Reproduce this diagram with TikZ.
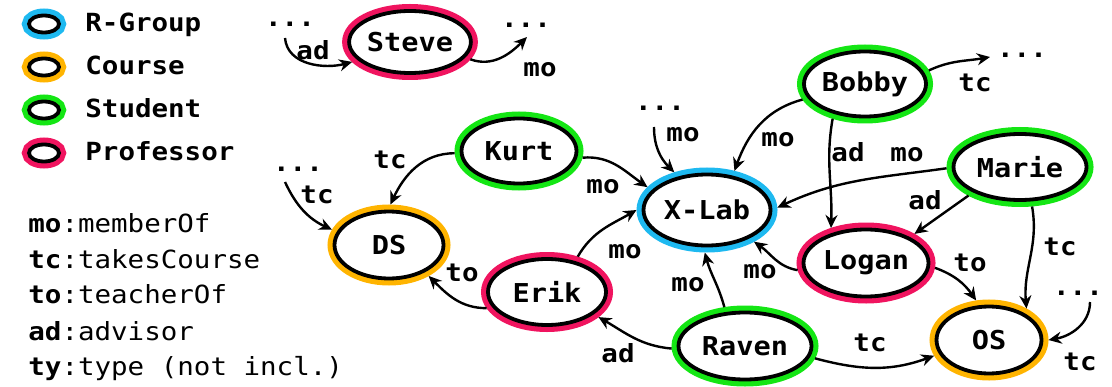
\documentclass[tikz,border=0pt]{standalone}
\usepackage{fontspec}
\setmonofont[FakeStretch=1.1]{DejaVu Sans Mono}
\usetikzlibrary{shapes.geometric,arrows.meta}

\definecolor{rgroupcol}{RGB}{30,185,240}
\definecolor{coursecol}{RGB}{255,180,0}
\definecolor{studentcol}{RGB}{20,230,20}
\definecolor{profcol}{RGB}{240,20,95}

\tikzset{
  entity/.style={ellipse, draw=black, line width=1.9pt, fill=white, inner sep=0pt,
    outer sep=3.5pt, font=\ttfamily\bfseries\fontsize{13}{15}\selectfont},
  rgroup/.style={entity, preaction={draw=rgroupcol, line width=7pt}},
  course/.style={entity, preaction={draw=coursecol, line width=7pt}},
  student/.style={entity, preaction={draw=studentcol, line width=7pt}},
  prof/.style={entity, preaction={draw=profcol, line width=7pt}},
  rel/.style={-{Stealth[length=6.5pt,width=6pt]}, line width=1.2pt},
  lbl/.style={inner sep=0pt, font=\ttfamily\bfseries\fontsize{12.5}{14}\selectfont},
  txt/.style={anchor=base west, inner sep=0pt, font=\ttfamily\fontsize{12.5}{14}\selectfont},
  keymark/.style={minimum width=15pt, minimum height=8.5pt},
}

\begin{document}
\begin{tikzpicture}[x=0.5pt, y=0.5pt]
  \useasboundingbox (0,0) rectangle (1112,386);

  % legend
  \node[rgroup, keymark]  (kRgroup)  at (44,362) {};
  \node[course, keymark]  (kCourse)  at (44,319) {};
  \node[student, keymark] (kStudent) at (44,276) {};
  \node[prof, keymark]    (kProf)    at (44,233) {};
  \node[txt] (tRgroup)  at (85,354) {\bfseries R-Group};
  \node[txt] (tCourse)  at (85,311) {\bfseries Course};
  \node[txt] (tStudent) at (85,268) {\bfseries Student};
  \node[txt] (tProf)    at (85,226) {\bfseries Professor};

  \node[txt] (dMo) at (28,154) {\textbf{mo}:memberOf};
  \node[txt] (dTc) at (28,118) {\textbf{tc}:takesCourse};
  \node[txt] (dTo) at (28,83)  {\textbf{to}:teacherOf};
  \node[txt] (dAd) at (28,46)  {\textbf{ad}:advisor};
  \node[txt] (dTy) at (28,11)  {\textbf{ty}:type (not incl.)};

  % entities
  \node[prof, minimum width=56.5pt, minimum height=31pt]    (steve) at (410,344) {Steve};
  \node[student, minimum width=61pt, minimum height=32.5pt] (bobby) at (865,302) {Bobby};
  \node[student, minimum width=66.5pt, minimum height=33pt] (marie) at (1020,219) {Marie};
  \node[rgroup, minimum width=63.5pt, minimum height=35.5pt] (xlab) at (707,176) {X-Lab};
  \node[prof, minimum width=62.5pt, minimum height=33.5pt]  (logan) at (866,123) {Logan};
  \node[course, minimum width=52.5pt, minimum height=33.5pt] (os)   at (989,46)  {OS};
  \node[student, minimum width=66.5pt, minimum height=33.5pt] (raven) at (745,40) {Raven};
  \node[student, minimum width=57.5pt, minimum height=32.5pt] (kurt) at (519,235) {Kurt};
  \node[course, minimum width=54.5pt, minimum height=33.5pt] (ds)   at (389,141) {DS};
  \node[prof, minimum width=59pt, minimum height=33pt]      (erik)  at (547,94)  {Erik};

  % elided neighbours
  \node[lbl] (moreSteveL) at (290,362)  {...};
  \node[lbl] (moreSteveR) at (526,361)  {...};
  \node[lbl] (moreBobby)  at (1022,331) {...};
  \node[lbl] (moreXlab)   at (660,278)  {...};
  \node[lbl] (moreDS)     at (298,217)  {...};
  \node[lbl] (moreOS)     at (1078,93)  {...};

  \coordinate (fromSteveL) at (285,348);
  \coordinate (toSteveR)   at (527,349);
  \coordinate (toBobby)    at (990,329);
  \coordinate (fromXlab)   at (654,259);
  \coordinate (fromDS)     at (285,204);
  \coordinate (fromOS)     at (1090,84);

  % edges
  \draw[rel] (fromSteveL) to[out=-85, in=195] (steve.199);
  \draw[rel] (steve.-16) to[out=-20, in=225] (toSteveR);
  \draw[rel] (bobby.12) to[out=25, in=190] (toBobby);
  \draw[rel] (fromXlab) to[out=-90, in=135] (xlab.131);
  \draw[rel] (fromDS) to[out=-65, in=155] (ds.165);
  \draw[rel] (fromOS) to[out=-90, in=10] (os.0);

  \draw[rel] (bobby.194) to[out=195, in=70] (xlab.55);
  \draw[rel] (bobby.227) to[out=-100, in=88] (logan.135);
  \draw[rel] (marie.181) to[out=188, in=25] (xlab.2);
  \draw[rel] (marie.209) -- (logan.31);
  \draw[rel] (marie.287) to[out=-80, in=95] (os.40);
  \draw[rel] (logan.186) to[out=170, in=-35] (xlab.-34);
  \draw[rel] (logan.-4) to[out=-20, in=125] (os.108);
  \draw[rel] (raven.118) to[out=105, in=-75] (xlab.267);
  \draw[rel] (raven.182) to[out=175, in=-30] (erik.-26);
  \draw[rel] (raven.-10) to[out=-15, in=200] (os.196);
  \draw[rel] (kurt.182) to[out=180, in=65] (ds.88);
  \draw[rel] (kurt.-6) to[out=5, in=145] (xlab.159);
  \draw[rel] (erik.49) to[out=60, in=210] (xlab.180);
  \draw[rel] (erik.195) to[out=180, in=-45] (ds.-38);

  % edge labels
  \node[lbl] (lSteveAd)  at (313,336)  {ad};
  \node[lbl] (lSteveMo)  at (540,316)  {mo};
  \node[lbl] (lBobbyTc)  at (975,303)  {tc};
  \node[lbl] (lXlabMo)   at (683,251)  {mo};
  \node[lbl] (lBobbyMo)  at (778,246)  {mo};
  \node[lbl] (lBobbyAd)  at (848,234)  {ad};
  \node[lbl] (lMarieMo)  at (907,231)  {mo};
  \node[lbl] (lMarieAd)  at (925,186)  {ad};
  \node[lbl] (lMarieTc)  at (1060,139) {tc};
  \node[lbl] (lLoganMo)  at (760,114)  {mo};
  \node[lbl] (lLoganTo)  at (970,123)  {to};
  \node[lbl] (lRavenMo)  at (688,101)  {mo};
  \node[lbl] (lRavenAd)  at (618,33)   {ad};
  \node[lbl] (lRavenTc)  at (870,43)   {tc};
  \node[lbl] (lOsTc)     at (1080,24)  {tc};
  \node[lbl] (lDsTc)     at (317,191)  {tc};
  \node[lbl] (lKurtTc)   at (390,226)  {tc};
  \node[lbl] (lKurtMo)   at (603,199)  {mo};
  \node[lbl] (lErikMo)   at (625,134)  {mo};
  \node[lbl] (lErikTo)   at (462,113)  {to};
\end{tikzpicture}
\end{document}
